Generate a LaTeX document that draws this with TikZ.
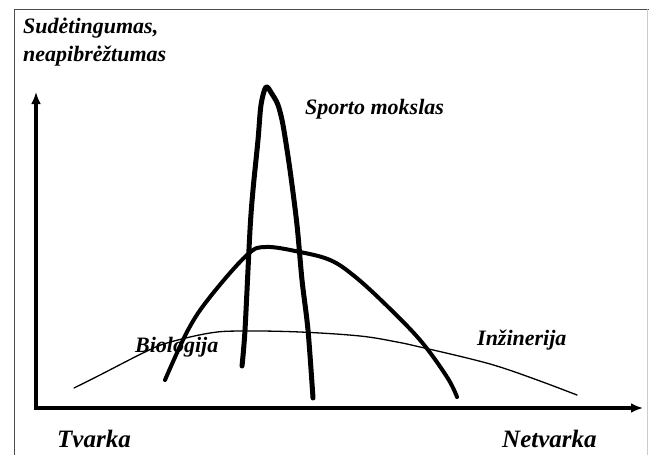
\documentclass[tikz,border=0pt]{standalone}
\usepackage{fontspec}
\setmainfont{Liberation Serif}
\usetikzlibrary{arrows.meta}
\begin{document}
\begin{tikzpicture}[x=1pt,y=-1pt,>={Latex[length=12pt,width=10pt]},line join=round,line cap=round,
		lbl/.style={anchor=base west,inner sep=0pt,font=\fontsize{22}{27}\selectfont\bfseries\itshape},
		big/.style={lbl,font=\fontsize{25}{30}\selectfont\bfseries\itshape}]
	\useasboundingbox (0,0) rectangle (649,455);
	\draw[black!70,line width=1pt] (14,455)--(14,9.5)--(649,9.5);
	\draw[black!20,line width=0.8pt] (647.5,9.5)--(647.5,455);
	\draw[<->,line width=3.5pt,line join=miter,line cap=butt] (36,92)--(36,408)--(643,408);
	\draw[line width=1.3pt,smooth,tension=0.6] plot coordinates{(74,388) (100,375) (143,353) (167,343) (210,333) (243,331) (300,332) (360,336) (397,342) (420,347) (467,358) (500,367) (540,381) (577,395)};
	\draw[line width=4pt,smooth,tension=0.6] plot coordinates{(165,380) (188,330) (210,297) (247,255) (266,247) (300,252) (330,260) (353,275) (383,302) (420,340) (447,377) (457,397)};
	\draw[line width=5pt,smooth,tension=0.5] plot coordinates{(242,366) (245,330) (250,230) (253,190) (258,140) (261,105) (266,87) (272,94) (278,105) (283,125) (290,170) (297,225) (302,280) (308,330) (313,398)};
	\node[lbl] (sud) at (23,34) {Sudėtingumas,};
	\node[lbl] (neap) at (23,61) {neapibrėžtumas};
	\node[lbl] (sport) at (305,114) {Sporto mokslas};
	\node[lbl] (bio) at (135,352) {Biologija};
	\node[lbl] (inz) at (477,345) {Inžinerija};
	\node[big] (tv) at (57,447) {Tvarka};
	\node[big] (netv) at (502,447) {Netvarka};
\end{tikzpicture}
\end{document}
